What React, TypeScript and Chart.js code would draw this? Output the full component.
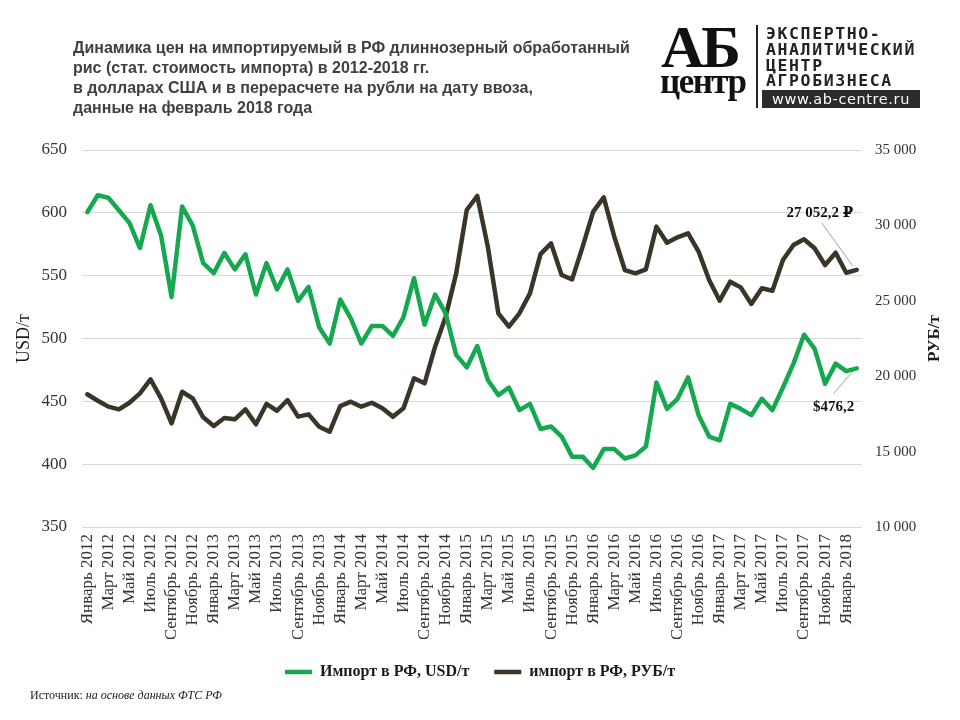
import React, { useEffect, useRef } from 'react';
import { Chart, registerables } from 'chart.js';

Chart.register(...registerables);

const monthNames = ['Январь', 'Февраль', 'Март', 'Апрель', 'Май', 'Июнь', 'Июль', 'Август', 'Сентябрь', 'Октябрь', 'Ноябрь', 'Декабрь'];
const years = [2012, 2013, 2014, 2015, 2016, 2017, 2018];
const categories: string[] = years.flatMap((y) => monthNames.map((m) => `${m} ${y}`)).slice(0, 74);

const usdValues = [
  600.5, 614, 612, 602, 592, 572, 606, 582, 533, 605, 590, 560,
  552, 568, 555, 567, 535, 560, 539, 555, 530, 541, 509, 496,
  531, 516, 496, 510, 510, 502, 517, 548, 511, 535, 520, 487,
  477, 494, 467, 455, 461, 443, 448, 428, 430, 422, 406, 406,
  397, 412, 412, 404.5, 407, 414, 465, 444, 452, 469, 439, 422,
  419, 448, 444, 439, 452, 443, 461, 480, 503, 492, 464, 480,
  474, 476.2,
];

const rubValues = [
  18800, 18375, 17980, 17800, 18240, 18860, 19790, 18530, 16875, 18970, 18530, 17270,
  16700, 17230, 17140, 17800, 16810, 18160, 17710, 18420, 17320, 17470, 16650, 16320,
  18020, 18310, 17980, 18240, 17870, 17320, 17870, 19860, 19530, 21960, 23950, 26820,
  31020, 31950, 28590, 24170, 23290, 24170, 25490, 28100, 28810, 26710, 26420, 28590,
  30910, 31860, 29250, 27040, 26820, 27090, 29920, 28850, 29210, 29470, 28260, 26380,
  25010, 26270, 25890, 24790, 25830, 25670, 27710, 28700, 29080, 28480, 27370, 28190,
  26860, 27052.2,
];

const seriesNames = ['Импорт в РФ, USD/т', 'импорт в РФ, РУБ/т'];
const axisTitles = ['USD/т', 'РУБ/т'];
const lastLabels = ['$476,2', '27 052,2 ₽'];

const titleLines = [
  'Динамика цен на импортируемый в РФ длиннозерный обработанный',
  'рис (стат. стоимость импорта) в 2012-2018 гг.',
  'в долларах США и в перерасчете на рубли на дату ввоза,',
  'данные на февраль 2018 года',
];
const logoLines = ['ЭКСПЕРТНО-', 'АНАЛИТИЧЕСКИЙ', 'ЦЕНТР', 'АГРОБИЗНЕСА'];

const GREEN = '#16a84f';
const DARK = '#3b3527';
const SERIF = '"Liberation Serif", "Times New Roman", "DejaVu Serif", serif';

const overlayPlugin = {
  id: 'overlay',
  afterDatasetsDraw(chart: any) {
    const ctx = chart.ctx as CanvasRenderingContext2D;
    const area = chart.chartArea;
    // right axis title (reads bottom-to-top)
    ctx.save();
    ctx.translate(chart.width - 25, (area.top + area.bottom) / 2);
    ctx.rotate(-Math.PI / 2);
    ctx.font = `bold 17px ${SERIF}`;
    ctx.fillStyle = '#1a1a1a';
    ctx.textAlign = 'center';
    ctx.textBaseline = 'middle';
    ctx.fillText(axisTitles[1], 0, 0);
    ctx.restore();

    // last value labels
    const rubMeta = chart.getDatasetMeta(1);
    const usdMeta = chart.getDatasetMeta(0);
    const pr = rubMeta.data[rubMeta.data.length - 1];
    const pu = usdMeta.data[usdMeta.data.length - 1];
    ctx.save();
    ctx.strokeStyle = '#8a8a8a';
    ctx.lineWidth = 0.8;
    ctx.beginPath();
    ctx.moveTo(pr.x - 35, pr.y - 47);
    ctx.lineTo(pr.x - 4, pr.y - 4);
    ctx.moveTo(pu.x - 23, pu.y + 25);
    ctx.lineTo(pu.x - 4, pu.y + 3);
    ctx.stroke();
    ctx.font = `bold 15px ${SERIF}`;
    ctx.fillStyle = '#111';
    ctx.textAlign = 'center';
    ctx.textBaseline = 'middle';
    ctx.fillText(lastLabels[1], pr.x - 37, pr.y - 57);
    ctx.fillText(lastLabels[0], pu.x - 23, pu.y + 39);
    ctx.restore();
  },
};

function ChartCanvas() {
  const ref = useRef<HTMLCanvasElement | null>(null);
  useEffect(() => {
    if (!ref.current) return;
    const chart = new Chart(ref.current, {
      type: 'line',
      data: {
        labels: categories,
        datasets: [
          {
            label: seriesNames[0],
            data: usdValues,
            borderColor: GREEN,
            backgroundColor: GREEN,
            borderWidth: 4.5,
            pointRadius: 0,
            tension: 0,
            borderCapStyle: 'round',
            borderJoinStyle: 'round',
            yAxisID: 'y',
          },
          {
            label: seriesNames[1],
            data: rubValues,
            borderColor: DARK,
            backgroundColor: DARK,
            borderWidth: 4.5,
            pointRadius: 0,
            tension: 0,
            borderCapStyle: 'round',
            borderJoinStyle: 'round',
            yAxisID: 'y1',
          },
        ],
      },
      options: {
        responsive: false,
        animation: false,
        devicePixelRatio: 1,
        layout: { padding: { top: 150, left: 0, right: 0, bottom: 30 } },
        plugins: {
          tooltip: { enabled: false },
          title: { display: false },
          legend: {
            display: true,
            position: 'bottom',
            labels: {
              usePointStyle: true,
              pointStyle: 'line',
              pointStyleWidth: 27,
              boxHeight: 5,
              padding: 25,
              color: '#1a1a1a',
              font: { family: SERIF, size: 16, weight: 'bold' },
            },
          },
        },
        scales: {
          x: {
            type: 'category',
            offset: true,
            grid: { display: false, drawTicks: false },
            border: { display: false },
            ticks: {
              autoSkip: false,
              maxRotation: 90,
              minRotation: 90,
              padding: 7,
              color: '#333',
              font: { family: SERIF, size: 17 },
              callback: function (this: any, value: any, index: number) {
                return index % 2 === 0 ? this.getLabelForValue(value) : null;
              },
            },
            afterFit: (s: any) => {
              s.height = 112;
            },
          },
          y: {
            position: 'left',
            min: 350,
            max: 650,
            ticks: {
              stepSize: 50,
              padding: 15,
              color: '#333',
              font: { family: SERIF, size: 17 },
            },
            grid: { color: '#d9d9d9', lineWidth: 1, drawTicks: false },
            border: { display: false },
            title: {
              display: true,
              text: axisTitles[0],
              color: '#1a1a1a',
              font: { family: SERIF, size: 18 },
              padding: { top: 13, bottom: 0 },
            },
            afterFit: (s: any) => {
              s.width = 82;
            },
          },
          y1: {
            position: 'right',
            min: 10000,
            max: 35000,
            ticks: {
              stepSize: 5000,
              padding: 13,
              color: '#333',
              font: { family: SERIF, size: 15 },
              callback: (v: any) => String(v).replace(/\B(?=(\d{3})+(?!\d))/g, ' '),
            },
            grid: { display: false, drawTicks: false },
            border: { display: false },
            afterFit: (s: any) => {
              s.width = 98;
            },
          },
        },
      },
      plugins: [overlayPlugin],
    } as any);
    return () => chart.destroy();
  }, []);
  return (
    <canvas
      ref={ref}
      width={960}
      height={720}
      style={{ position: 'absolute', left: 0, top: 0, width: 960, height: 720 }}
    />
  );
}

export default function App() {
  return (
    <div
      style={{
        position: 'absolute',
        left: 0,
        top: 0,
        width: 960,
        height: 720,
        background: '#fff',
        overflow: 'hidden',
      }}
    >
      <ChartCanvas />
      <div
        style={{
          position: 'absolute',
          left: 73,
          top: 38,
          fontFamily: '"Liberation Sans", Arial, sans-serif',
          fontWeight: 'bold',
          fontSize: 16,
          lineHeight: '20px',
          color: '#404040',
          whiteSpace: 'nowrap',
        }}
      >
        {titleLines.map((l, i) => (
          <div key={i}>{l}</div>
        ))}
      </div>
      {/* logo */}
      <div
        style={{
          position: 'absolute',
          left: 661,
          top: 17,
          fontFamily: SERIF,
          fontWeight: 'bold',
          fontSize: 60,
          lineHeight: '60px',
          letterSpacing: -3,
          color: '#111',
        }}
      >
        АБ
      </div>
      <div
        style={{
          position: 'absolute',
          left: 660,
          top: 64,
          fontFamily: SERIF,
          fontWeight: 'bold',
          fontSize: 35,
          lineHeight: '35px',
          letterSpacing: -1.5,
          color: '#111',
        }}
      >
        центр
      </div>
      <div style={{ position: 'absolute', left: 756, top: 25, width: 2, height: 83, background: '#222' }} />
      <div
        style={{
          position: 'absolute',
          left: 766,
          top: 26,
          fontFamily: '"DejaVu Sans Mono", monospace',
          fontWeight: 'bold',
          fontSize: 16.5,
          lineHeight: '15.8px',
          letterSpacing: 1.6,
          color: '#222',
          whiteSpace: 'nowrap',
        }}
      >
        {logoLines.map((l, i) => (
          <div key={i}>{l}</div>
        ))}
      </div>
      <div
        style={{
          position: 'absolute',
          left: 762,
          top: 90,
          width: 158,
          height: 18,
          background: '#2b2b2b',
          color: '#fff',
          fontFamily: '"DejaVu Sans", sans-serif',
          fontSize: 14.5,
          lineHeight: '18px',
          letterSpacing: 0.6,
          textAlign: 'center',
          whiteSpace: 'nowrap',
        }}
      >
        www.ab-centre.ru
      </div>
      <div
        style={{
          position: 'absolute',
          left: 30,
          top: 688,
          fontFamily: SERIF,
          fontSize: 12,
          color: '#222',
          whiteSpace: 'nowrap',
        }}
      >
        Источник: <i>на основе данных ФТС РФ</i>
      </div>
    </div>
  );
}
